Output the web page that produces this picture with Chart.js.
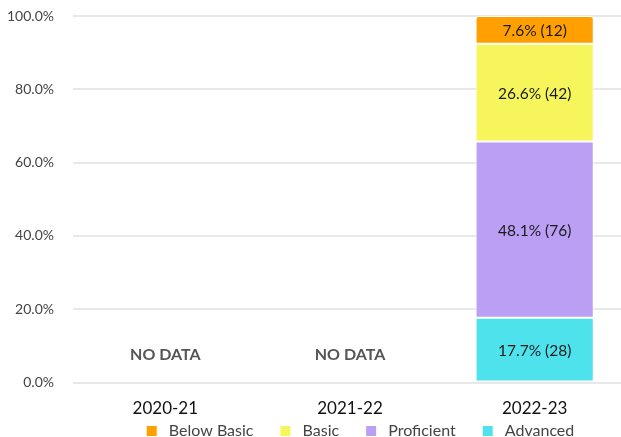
<!DOCTYPE html>
<html>
<head>
<meta charset="utf-8">
<script src="https://cdn.jsdelivr.net/npm/chart.js@4"></script>
<style>
  html, body { margin: 0; padding: 0; background: #fff; overflow: hidden; }
  #wrap { width: 627px; height: 437px; }
</style>
</head>
<body>
<div id="wrap"><canvas id="myChart"></canvas></div>
<script>
const years = ['2020-21', '2021-22', '2022-23'];

// percent of students per level, bottom of stack first
const advancedPct   = [null, null, 17.7];
const proficientPct = [null, null, 48.1];
const basicPct      = [null, null, 26.6];
const belowBasicPct = [null, null, 7.6];

// student counts shown in brackets
const advancedN   = [null, null, 28];
const proficientN = [null, null, 76];
const basicN      = [null, null, 42];
const belowBasicN = [null, null, 12];

const yTicks = [0, 20, 40, 60, 80, 100];

const FONT = 'Lato, "Noto Sans", sans-serif';

const data = {
  labels: years,
  datasets: [{
    label: 'Advanced',
    data: advancedPct,
    counts: advancedN,
    backgroundColor: '#4ee2ec'
  }, {
    label: 'Proficient',
    data: proficientPct,
    counts: proficientN,
    backgroundColor: '#bb9ff5'
  }, {
    label: 'Basic',
    data: basicPct,
    counts: basicN,
    backgroundColor: '#f6f65c'
  }, {
    label: 'Below Basic',
    data: belowBasicPct,
    counts: belowBasicN,
    backgroundColor: '#ffa000',
    borderRadius: {topLeft: 3, topRight: 3}
  }]
};

const barLabels = {
  id: 'barLabels',
  afterDatasetsDraw(chart) {
    const ctx = chart.ctx;
    ctx.save();
    ctx.font = '15.5px ' + FONT;
    ctx.fillStyle = '#1a1a1a';
    ctx.textAlign = 'center';
    ctx.textBaseline = 'middle';
    chart.data.datasets.forEach((ds, i) => {
      const meta = chart.getDatasetMeta(i);
      meta.data.forEach((bar, j) => {
        const v = ds.data[j];
        if (v === null || v === undefined) return;
        const txt = v.toFixed(1) + '% (' + ds.counts[j] + ')';
        ctx.fillText(txt, bar.x, (bar.y + bar.base) / 2 + 1);
      });
    });
    ctx.restore();
  }
};

const noData = {
  id: 'noData',
  afterDatasetsDraw(chart) {
    const ctx = chart.ctx;
    const x = chart.scales.x;
    const y = chart.scales.y;
    ctx.save();
    ctx.font = 'bold 16px ' + FONT;
    ctx.fillStyle = '#555';
    ctx.textAlign = 'center';
    ctx.textBaseline = 'middle';
    chart.data.labels.forEach((lab, j) => {
      const empty = chart.data.datasets.every(ds => ds.data[j] === null);
      if (empty) ctx.fillText('NO DATA', x.getPixelForValue(j), y.getPixelForValue(7.6));
    });
    ctx.restore();
  }
};

// legend padding is used for the gap between items, so keep its box short
// for the layout, then move it up / right (and give it room to draw)
const legendPlace = {
  id: 'legendPlace',
  beforeInit(chart) {
    const fit = chart.legend.fit;
    chart.legend.fit = function() {
      fit.call(this);
      this.height = 10;
    };
  },
  afterLayout(chart) {
    const lg = chart.legend;
    lg.top = 396;
    lg.bottom = chart.height;
    lg.height = lg.bottom - lg.top;
    lg.left += 43;
    lg.right += 43;
  }
};

const config = {
  type: 'bar',
  data: data,
  options: {
    responsive: true,
    maintainAspectRatio: false,
    animation: false,
    datasets: {
      bar: {
        borderColor: '#fff',
        borderWidth: 1,
        borderSkipped: false,
        categoryPercentage: 0.8,
        barPercentage: 0.8
      }
    },
    layout: { padding: { left: 8, top: 16, right: 0, bottom: 0 } },
    scales: {
      x: {
        stacked: true,
        grid: { display: false },
        border: { display: false },
        ticks: { color: '#111', font: { family: FONT, size: 17 }, padding: 8 }
      },
      y: {
        stacked: true,
        min: 0,
        max: 100,
        afterBuildTicks: axis => { axis.ticks = yTicks.map(v => ({ value: v })); },
        afterFit: s => { s.width = 65; s.paddingTop = 0; s.paddingBottom = 0; },
        grid: { color: '#e8e8e8', lineWidth: 2, drawTicks: false },
        border: { display: false },
        ticks: {
          color: '#444',
          font: { family: FONT, size: 14 },
          padding: 19,
          callback: v => v.toFixed(1) + '%'
        }
      }
    },
    plugins: {
      tooltip: { enabled: false },
      legend: {
        position: 'bottom',
        reverse: true,
        labels: {
          boxWidth: 10,
          boxHeight: 10,
          padding: 27,
          color: '#444',
          font: { family: FONT, size: 16 },
          generateLabels: chart => Chart.defaults.plugins.legend.labels.generateLabels(chart)
            .map(item => Object.assign(item, { text: ' ' + item.text, lineWidth: 0 }))
        }
      }
    }
  },
  plugins: [legendPlace, barLabels, noData]
};

let myChart = new Chart(document.getElementById('myChart'), config);
</script>
</body>
</html>
